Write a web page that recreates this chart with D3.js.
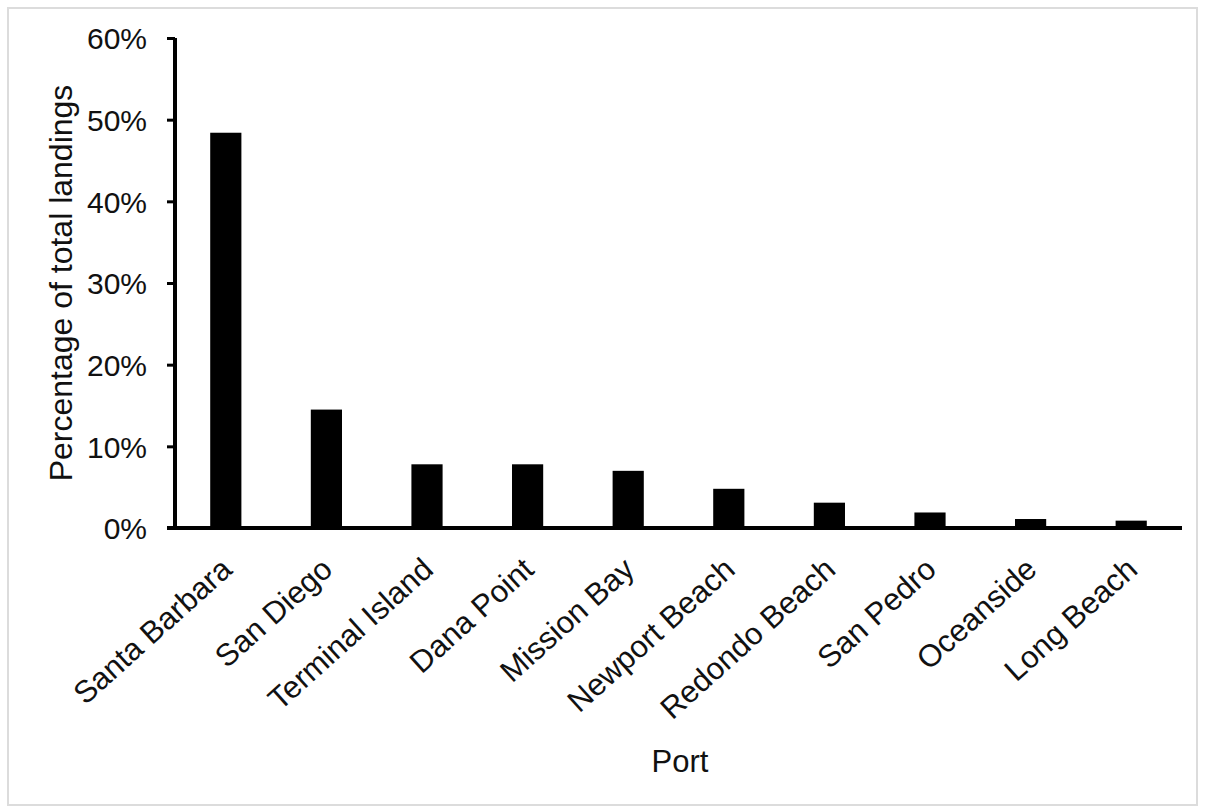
<!DOCTYPE html>
<html><head><meta charset="utf-8">
<script src="https://cdn.jsdelivr.net/npm/d3@7"></script>
<style>body{margin:0;background:#fff}svg{display:block}text{font-family:"Liberation Sans",Arial,sans-serif;fill:#111}</style>
</head><body>
<script>
const ports = ["Santa Barbara","San Diego","Terminal Island","Dana Point","Mission Bay","Newport Beach","Redondo Beach","San Pedro","Oceanside","Long Beach"];
const shares = [48.4,14.5,7.8,7.8,7.0,4.8,3.1,1.9,1.1,0.9];
const yTicks = [0,10,20,30,40,50,60];
const yTitle = "Percentage of total landings";
const xTitle = "Port";

const W=1206,H=810;
const svg=d3.select("body").append("svg").attr("width",W).attr("height",H);
svg.append("rect").attr("x",8).attr("y",8).attr("width",1189).attr("height",797).attr("fill","#fff").attr("stroke","#dcdcdc").attr("stroke-width",2);

const x0=175,x1=1182,y0=528,yTop=38;
const x=d3.scaleBand().domain(ports).range([x0,x1]).paddingInner(0.69).paddingOuter(0.35);
const y=d3.scaleLinear().domain([0,60]).range([y0,yTop]);

const g=svg.append("g");
g.selectAll("rect.bar").data(ports).join("rect").attr("class","bar")
 .attr("x",d=>x(d)).attr("width",x.bandwidth())
 .attr("y",(d,i)=>y(shares[i])).attr("height",(d,i)=>y(0)-y(shares[i])).attr("fill","#000");

const ya=g.append("g").attr("transform",`translate(${x0},0)`)
 .call(d3.axisLeft(y).tickValues(yTicks).tickFormat(d=>d+"%").tickSize(8).tickPadding(20));
ya.select(".domain").attr("stroke","#000").attr("stroke-width",4).attr("d",`M0,${yTop}V${y0}`);
ya.selectAll(".tick line").attr("stroke","#000").attr("stroke-width",3);
ya.selectAll(".tick text").attr("font-size",30).attr("fill","#111").attr("dy","0.36em");

const xa=g.append("g").attr("transform",`translate(0,${y0})`)
 .call(d3.axisBottom(x).tickSize(0).tickPadding(0));
xa.select(".domain").attr("stroke","#000").attr("stroke-width",4).attr("d",`M${x0-8},0H${x1}`);
xa.selectAll(".tick text").attr("font-size",31).attr("fill","#111")
 .attr("text-anchor","end").attr("dy",0).attr("y",0)
 .attr("transform","translate(8,44) rotate(-42)");

svg.append("text").attr("transform",`translate(72,283) rotate(-90)`).attr("text-anchor","middle")
 .attr("font-size",32).text(yTitle);
svg.append("text").attr("x",680).attr("y",772).attr("text-anchor","middle").attr("font-size",31).text(xTitle);
</script>
</body></html>
